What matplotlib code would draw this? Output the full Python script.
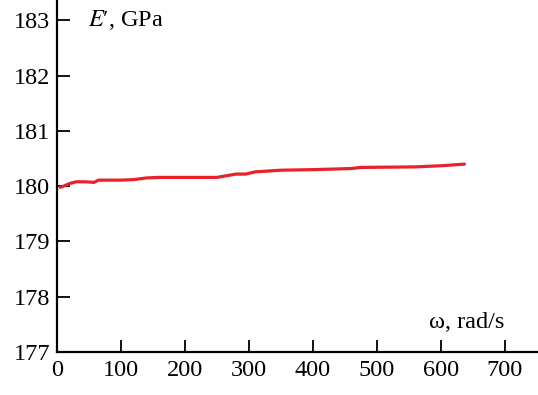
import matplotlib
matplotlib.use("Agg")
import matplotlib.pyplot as plt

# storage modulus vs frequency
omega = [5, 10, 20, 30, 45, 58, 65, 100, 120, 140, 160, 200, 250, 265,
         280, 295, 310, 350, 400, 460, 475, 560, 600, 637]
E_mod = [179.98, 180.0, 180.05, 180.08, 180.08, 180.07, 180.11, 180.11,
         180.12, 180.15, 180.16, 180.16, 180.16, 180.19, 180.22, 180.22,
         180.26, 180.29, 180.30, 180.32, 180.34, 180.35, 180.37, 180.40]

x_ticks = [0, 100, 200, 300, 400, 500, 600, 700]
y_ticks = [177, 178, 179, 180, 181, 182, 183]

plt.rcParams['font.family'] = ['Liberation Serif', 'DejaVu Serif']
plt.rcParams['mathtext.fontset'] = 'stix'

fig = plt.figure(figsize=(5.38, 3.95), dpi=100)
ax = fig.add_axes([57 / 538, 43 / 395, 1 - 57 / 538, 352 / 395])

ax.plot(omega, E_mod, color='#e8212a', lw=2.3, solid_capstyle='round')

ax.set_xlim(0, 752)
ax.set_ylim(177, 183.37)
ax.set_xticks(x_ticks)
ax.set_yticks(y_ticks)
ax.spines['top'].set_visible(False)
ax.spines['right'].set_visible(False)
for s in ('left', 'bottom'):
    ax.spines[s].set_linewidth(1.6)
ax.tick_params(direction='in', length=9, width=1.3, labelsize=17.5)
ax.tick_params(axis='x', pad=6)
ax.tick_params(axis='y', pad=5)

fig.text(504 / 538, 1 - 323 / 395, "\u03c9, rad/s", fontsize=17.5,
         ha='right', va='center')
fig.text(88 / 538, 1 - 20 / 395, "$E$\u2032, GPa", fontsize=17.5,
         ha='left', va='center')

fig.savefig("out.png", dpi=100)
